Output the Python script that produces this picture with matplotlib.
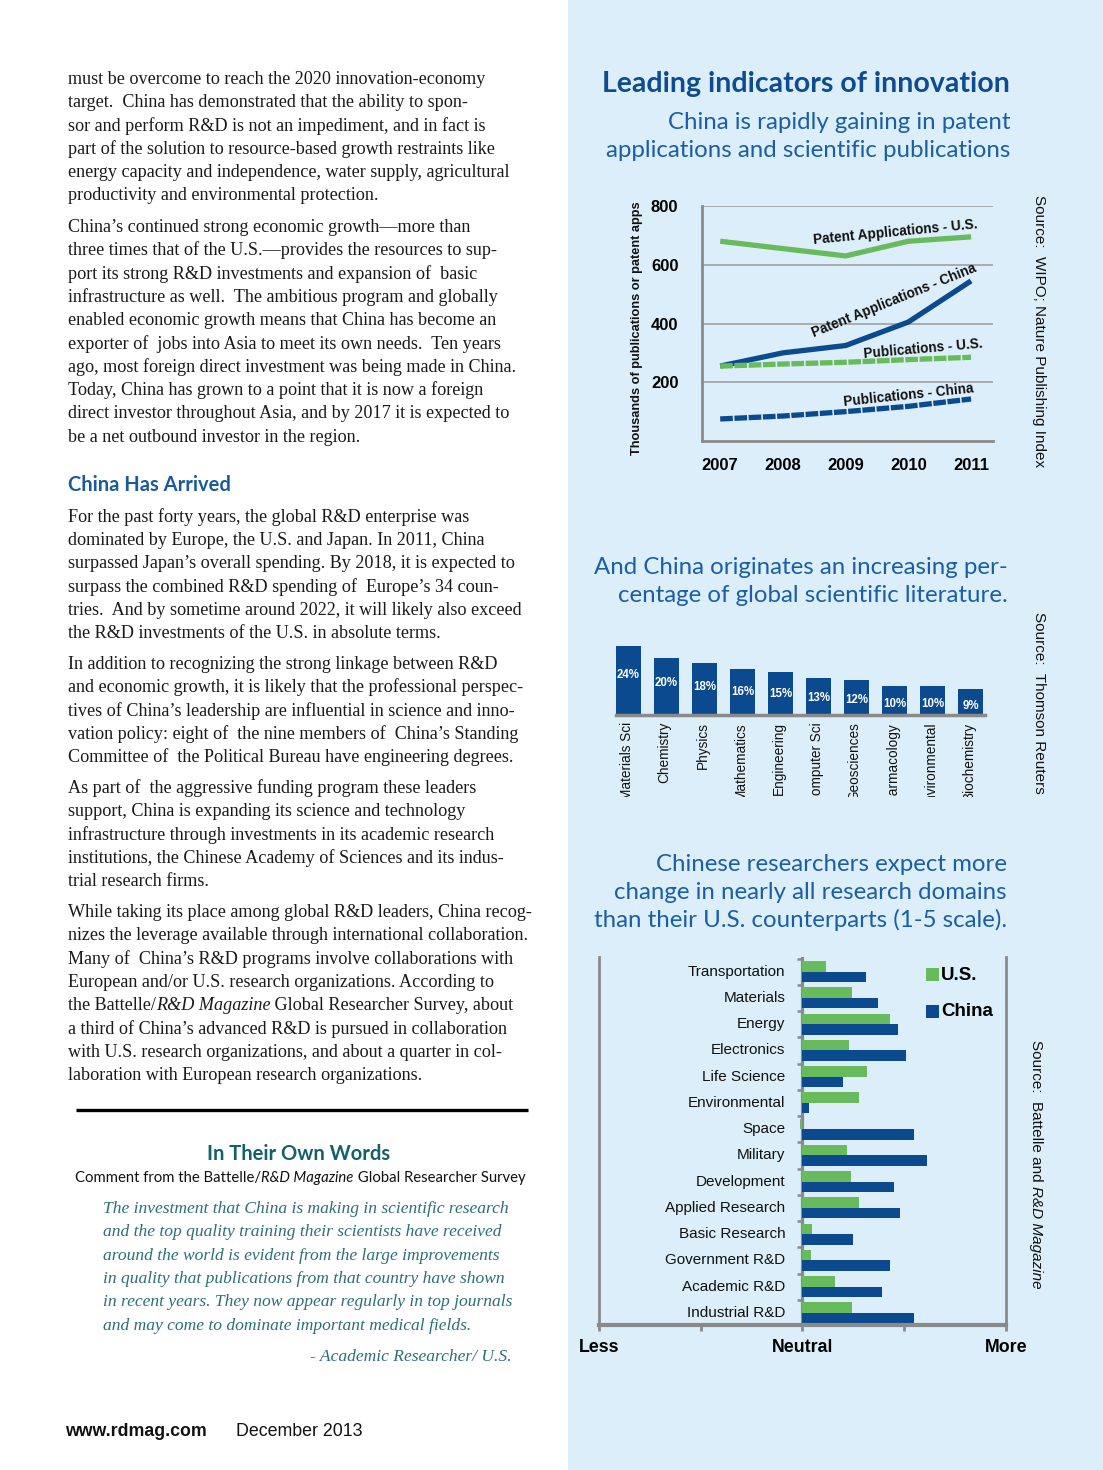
import matplotlib
matplotlib.use('Agg')
import matplotlib.pyplot as plt
from matplotlib.patches import Rectangle
import numpy as np

W, H = 1103, 1470

# ---------------- data ----------------
years = [2007, 2008, 2009, 2010, 2011]
patent_us = [680, 655, 630, 680, 695]
patent_cn = [255, 300, 325, 405, 545]
pubs_us = [255, 262, 268, 277, 285]
pubs_cn = [75, 85, 100, 118, 143]
line_yticks = [200, 400, 600, 800]

fields = ["Materials Sci", "Chemistry", "Physics", "Mathematics", "Engineering",
          "Computer Sci", "Geosciences", "Pharmacology", "Environmental", "Biochemistry"]
field_share = [24, 20, 18, 16, 15, 13, 12, 10, 10, 9]
field_labels = ["24%", "20%", "18%", "16%", "15%", "13%", "12%", "10%", "10%", "9%"]

domains = ["Transportation", "Materials", "Energy", "Electronics", "Life Science",
           "Environmental", "Space", "Military", "Development", "Applied Research",
           "Basic Research", "Government R&D", "Academic R&D", "Industrial R&D"]
us_score = [3.23, 3.49, 3.86, 3.46, 3.63, 3.56, 2.98, 3.44, 3.48, 3.56, 3.09, 3.08, 3.32, 3.49]
cn_score = [3.62, 3.74, 3.94, 4.02, 3.40, 3.06, 4.10, 4.22, 3.90, 3.96, 3.50, 3.86, 3.78, 4.10]
scale_ticks = [1, 2, 3, 4, 5]
scale_labels = ["Less", "", "Neutral", "", "More"]

para1 = ["must be overcome to reach the 2020 innovation-economy",
         "target.  China has demonstrated that the ability to spon-",
         "sor and perform R&D is not an impediment, and in fact is",
         "part of the solution to resource-based growth restraints like",
         "energy capacity and independence, water supply, agricultural",
         "productivity and environmental protection."]
para2 = ["China\u2019s continued strong economic growth\u2014more than",
         "three times that of the U.S.\u2014provides the resources to sup-",
         "port its strong R&D investments and expansion of  basic",
         "infrastructure as well.  The ambitious program and globally",
         "enabled economic growth means that China has become an",
         "exporter of  jobs into Asia to meet its own needs.  Ten years",
         "ago, most foreign direct investment was being made in China.",
         "Today, China has grown to a point that it is now a foreign",
         "direct investor throughout Asia, and by 2017 it is expected to",
         "be a net outbound investor in the region."]
para3 = ["For the past forty years, the global R&D enterprise was",
         "dominated by Europe, the U.S. and Japan. In 2011, China",
         "surpassed Japan\u2019s overall spending. By 2018, it is expected to",
         "surpass the combined R&D spending of  Europe\u2019s 34 coun-",
         "tries.  And by sometime around 2022, it will likely also exceed",
         "the R&D investments of the U.S. in absolute terms."]
para4 = ["In addition to recognizing the strong linkage between R&D",
         "and economic growth, it is likely that the professional perspec-",
         "tives of China\u2019s leadership are influential in science and inno-",
         "vation policy: eight of  the nine members of  China\u2019s Standing",
         "Committee of  the Political Bureau have engineering degrees."]
para5 = ["As part of  the aggressive funding program these leaders",
         "support, China is expanding its science and technology",
         "infrastructure through investments in its academic research",
         "institutions, the Chinese Academy of Sciences and its indus-",
         "trial research firms."]
para6a = ["While taking its place among global R&D leaders, China recog-",
          "nizes the leverage available through international collaboration.",
          "Many of  China\u2019s R&D programs involve collaborations with",
          "European and/or U.S. research organizations. According to"]
para6b = ["a third of China\u2019s advanced R&D is pursued in collaboration",
          "with U.S. research organizations, and about a quarter in col-",
          "laboration with European research organizations."]
quote = ["The investment that China is making in scientific research",
         "and the top quality training their scientists have received",
         "around the world is evident from the large improvements",
         "in quality that publications from that country have shown",
         "in recent years. They now appear regularly in top journals",
         "and may come to dominate important medical fields."]

# ---------------- styles ----------------
PANEL = '#dbeef9'
GREEN = '#68bb5d'
BLUE = '#0b4a8e'
GRAY = '#8a8a8a'
TITLE_DARK = '#0f4c8f'
TITLE = '#1b5ea5'
TEAL = '#14606c'
QUOTE = '#2c6e7a'
SERIF = 'Liberation Serif'
SANS = 'Liberation Sans'
HUM = 'Lato'

fig = plt.figure(figsize=(W / 100, H / 100), dpi=100)
renderer = fig.canvas.get_renderer()

bg = fig.add_axes([0, 0, 1, 1])
bg.set_xlim(0, W)
bg.set_ylim(H, 0)
bg.axis('off')
bg.add_patch(Rectangle((568, 0), W - 568, H, facecolor=PANEL, edgecolor='none', zorder=0))


def ax_px(l, t, r, b):
    return fig.add_axes([l / W, 1 - b / H, (r - l) / W, (b - t) / H])


def segs(x, y, parts, vertical=False, **kw):
    """draw consecutive text pieces (text, style) starting at x,y"""
    for s, style in parts:
        t = bg.text(x, y, s, fontstyle=style, **kw)
        bb = t.get_window_extent(renderer)
        if vertical:
            y += bb.height
        else:
            x += bb.width


# ---------------- left column ----------------
body = dict(fontsize=13.1, family=SERIF, color='#1a1a1a', va='center', ha='left')


def para(lines, y0, step=23.35):
    for k, line in enumerate(lines):
        bg.text(68, y0 + k * step, line, **body)


para(para1, 79)
para(para2, 227)
bg.text(68, 485, "China Has Arrived", fontsize=14.5, family=HUM, weight='bold',
        color='#1a5b9c', va='center', ha='left')
para(para3, 517)
para(para4, 664)
para(para5, 788)
para(para6a, 912)
segs(68, 912 + 4 * 23.35, [("the Battelle/", 'normal'), ("R&D Magazine", 'italic'),
                            (" Global Researcher Survey, about", 'normal')], **body)
para(para6b, 912 + 5 * 23.35)

bg.plot([76, 528], [1110, 1110], color='black', lw=2.4, solid_capstyle='butt')
bg.text(299, 1154, "In Their Own Words", fontsize=14.5, family=HUM, weight='bold',
        color=TEAL, ha='center', va='center')
cm = dict(fontsize=10.7, family=HUM, color='#111111', va='center', ha='left')
segs(75, 1178, [("Comment from the Battelle/", 'normal'), ("R&D Magazine", 'italic'),
                (" Global Researcher Survey", 'normal')], **cm)
for k, line in enumerate(quote):
    bg.text(103, 1209 + k * 23.35, line, fontsize=12.6, family=SERIF, style='italic',
            color=QUOTE, va='center', ha='left')
bg.text(512, 1357, "- Academic Researcher/ U.S.", fontsize=12.6, family=SERIF, style='italic',
        color=QUOTE, va='center', ha='right')

bg.text(65, 1432, "www.rdmag.com", fontsize=12.8, family=SANS, weight='bold',
        color='#111111', va='center', ha='left')
bg.text(236, 1432, "December 2013", fontsize=12.8, family=SANS,
        color='#111111', va='center', ha='left')

# ---------------- right column titles ----------------
bg.text(1010, 84, "Leading indicators of innovation", fontsize=20.5, family=HUM,
        weight='bold', color=TITLE_DARK, ha='right', va='center')
for k, line in enumerate(["China is rapidly gaining in patent",
                          "applications and scientific publications"]):
    bg.text(1010, 122 + k * 28, line, fontsize=17.3, family=HUM, color=TITLE,
            ha='right', va='center')
for k, line in enumerate(["And China originates an increasing per-",
                          "centage of global scientific literature."]):
    bg.text(1008, 567 + k * 28, line, fontsize=17.3, family=HUM, color=TITLE,
            ha='right', va='center')
for k, line in enumerate(["Chinese researchers expect more",
                          "change in nearly all research domains",
                          "than their U.S. counterparts (1-5 scale)."]):
    bg.text(1007, 864 + k * 28, line, fontsize=17.3, family=HUM, color=TITLE,
            ha='right', va='center')

src = dict(fontsize=11, family=SANS, color='#111111', rotation=-90, ha='center', va='top')
bg.text(1039, 195, "Source:  WIPO; Nature Publishing Index", **src)
bg.text(1039, 612, "Source:  Thomson Reuters", **src)
segs(1036, 1040, [("Source:  Battelle and ", 'normal'), ("R&D Magazine", 'italic')],
     vertical=True, **src)

# ---------------- line chart ----------------
ax1 = ax_px(702, 206, 993, 441)
ax1.set_facecolor('none')
ax1.set_xlim(2006.71, 2011.35)
ax1.set_ylim(0, 800)
ax1.set_yticks(line_yticks)
ax1.set_xticks(years)
ax1.grid(axis='y', color='#9a9a9a', lw=1.1)
ax1.set_axisbelow(True)
for s in ['top', 'right']:
    ax1.spines[s].set_visible(False)
for s in ['left', 'bottom']:
    ax1.spines[s].set_color(GRAY)
    ax1.spines[s].set_linewidth(2)
ax1.tick_params(axis='y', length=0, pad=17, labelsize=12)
ax1.tick_params(axis='x', length=0, pad=12, labelsize=12)
for lab in ax1.get_xticklabels() + ax1.get_yticklabels():
    lab.set_fontweight('bold')
    lab.set_family(SANS)
ax1.plot(years, patent_us, color=GREEN, lw=3.8, solid_capstyle='butt')
ax1.plot(years, patent_cn, color=BLUE, lw=3.8, solid_capstyle='butt')
ax1.plot(years, pubs_us, color=GREEN, lw=3.8, dashes=(2.4, 0.3))
ax1.plot(years, pubs_cn, color=BLUE, lw=3.8, dashes=(2.4, 0.3))
lab = dict(fontsize=9.8, family=SANS, weight='bold', color='#111111', ha='center', va='center')
ax1.text(2009.80, 711, "Patent Applications - U.S.", rotation=5.5, **lab)
ax1.text(2009.77, 477, "Patent Applications - China", rotation=22, **lab)
ax1.text(2010.24, 313, "Publications - U.S.", rotation=5, **lab)
ax1.text(2010.01, 157, "Publications - China", rotation=6, **lab)
bg.text(637, 328, "Thousands of publications or patent apps", fontsize=9.2, family=SANS,
        weight='bold', rotation=90, ha='center', va='center', color='#111111')

# ---------------- vertical bar chart ----------------
ax2 = ax_px(616, 643.2, 985, 714.7)
ax2.set_facecolor('none')
xs = np.arange(len(fields))
ax2.bar(xs, field_share, width=0.66, color=BLUE)
ax2.set_xlim(-0.33, 9.38)
ax2.set_ylim(0, 25)
for s in ['top', 'right', 'left']:
    ax2.spines[s].set_visible(False)
ax2.spines['bottom'].set_color(GRAY)
ax2.spines['bottom'].set_linewidth(2.5)
ax2.set_xticks([])
ax2.set_yticks([])
for x, v, t in zip(xs, field_share, field_labels):
    ax2.text(x, v * 0.73 - 3.6, t, color='white', fontsize=8.3, family=SANS,
             weight='bold', ha='center', va='center')

ax2l = ax_px(616, 718, 985, 797)
ax2l.set_xlim(-0.33, 9.38)
ax2l.set_ylim(0, 1)
ax2l.axis('off')
for x, name in zip(xs, fields):
    t = ax2l.text(x - 0.05, 0.95, name, rotation=90, ha='center', va='top', fontsize=9.8,
                  family=SANS, color='#111111', clip_on=True)
    t.set_clip_path(None)
    t.set_clip_box(ax2l.bbox)

# ---------------- horizontal bar chart ----------------
ax3 = ax_px(599, 957, 1006, 1325)
ax3.set_facecolor('none')
ys = np.arange(len(domains))
ax3.set_xlim(1, 5)
ax3.set_ylim(13.46, -0.56)
ax3.axvline(3, color=GRAY, lw=2.3, zorder=1)
ax3.barh(ys - 0.2, np.array(us_score) - 3, left=3, height=0.4, color=GREEN, zorder=2)
ax3.barh(ys + 0.2, np.array(cn_score) - 3, left=3, height=0.4, color=BLUE, zorder=2)
ax3.hlines(np.arange(-0.5, len(domains), 1.0), 2.95, 3.0, color=GRAY, lw=1.8, zorder=1)
for s in ['top']:
    ax3.spines[s].set_visible(False)
for s in ['left', 'right']:
    ax3.spines[s].set_color(GRAY)
    ax3.spines[s].set_linewidth(2)
ax3.spines['bottom'].set_color(GRAY)
ax3.spines['bottom'].set_linewidth(3)
ax3.set_yticks([])
ax3.set_xticks(scale_ticks)
ax3.set_xticklabels(scale_labels)
ax3.tick_params(axis='x', direction='out', length=4, width=2, color=GRAY, pad=6,
                labelsize=12.8)
for lab_ in ax3.get_xticklabels():
    lab_.set_fontweight('bold')
    lab_.set_family(SANS)
for y, name in zip(ys, domains):
    ax3.text(2.83, y, name, ha='right', va='center', fontsize=11, family=SANS,
             color='#111111')
# legend
bg.add_patch(Rectangle((926, 968), 13, 13, facecolor=GREEN, edgecolor='none'))
bg.add_patch(Rectangle((926, 1005), 13, 13, facecolor=BLUE, edgecolor='none'))
bg.text(941, 975, "U.S.", fontsize=13.5, family=SANS, weight='bold', va='center', ha='left')
bg.text(941, 1011, "China", fontsize=13.5, family=SANS, weight='bold', va='center', ha='left')

fig.savefig('out.png', dpi=100)
